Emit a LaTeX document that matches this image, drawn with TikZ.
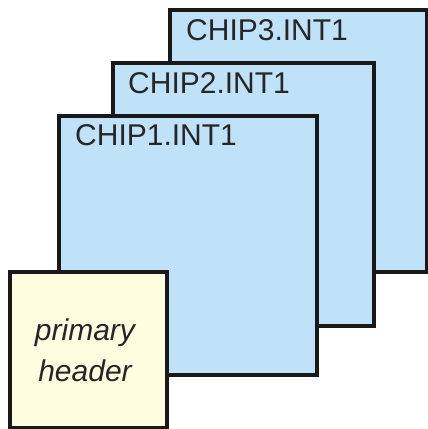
\documentclass[tikz,border=0pt]{standalone}
\usepackage{fontspec}
\setmainfont{Liberation Sans}
\definecolor{chipblue}{RGB}{191,226,249}
\definecolor{hdryellow}{RGB}{255,253,224}
\definecolor{edge}{RGB}{25,25,25}
\begin{document}
\begin{tikzpicture}[x=1pt,y=-1pt,
  page/.style={draw=edge,line width=3.2pt,fill=chipblue},
  hdr/.style={draw=edge,line width=3.2pt,fill=hdryellow},
  lbl/.style={anchor=base west,inner sep=0pt,font=\fontsize{30}{30}\selectfont,text=black!85}]
\useasboundingbox (0,0) rectangle (428,429);
\path[page] (170,10) rectangle (427,272);
\node[lbl] (c3) at (186,40) {CHIP3.INT1};
\path[page] (113,63) rectangle (374,326);
\node[lbl] (c2) at (128,93) {CHIP2.INT1};
\path[page] (59,116) rectangle (317,375);
\node[lbl] (c1) at (75,145) {CHIP1.INT1};
\path[hdr] (10,272) rectangle (167,428);
\node[anchor=base,inner sep=0pt,font=\fontsize{30}{30}\selectfont\itshape,text=black!85] (h1) at (85,340) {primary};
\node[anchor=base,inner sep=0pt,font=\fontsize{30}{30}\selectfont\itshape,text=black!85] (h2) at (85,381) {header};
\end{tikzpicture}
\end{document}
